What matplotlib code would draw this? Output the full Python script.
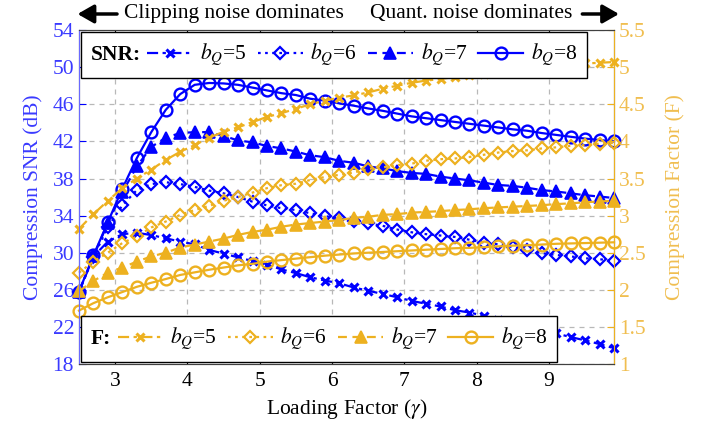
import matplotlib
matplotlib.use("Agg")
import matplotlib.pyplot as plt
from matplotlib.lines import Line2D
from matplotlib.offsetbox import HPacker

plt.rcParams['font.family'] = ['Liberation Serif', 'DejaVu Serif']
plt.rcParams['mathtext.fontset'] = 'stix'
FS = 15.5

# loading factor values
gamma = [2.5, 2.7, 2.9, 3.1, 3.3, 3.5, 3.7, 3.9, 4.1, 4.3,
         4.5, 4.7, 4.9, 5.1, 5.3, 5.5, 5.7, 5.9, 6.1, 6.3,
         6.5, 6.7, 6.9, 7.1, 7.3, 7.5, 7.7, 7.9, 8.1, 8.3,
         8.5, 8.7, 8.9, 9.1, 9.3, 9.5, 9.7, 9.9]

# compression SNR (dB)
snr_b5 = [25.8, 29.6, 31.2, 32.0, 32.15, 31.9, 31.55, 31.2, 30.9, 30.3,
          29.9, 29.5, 29.1, 28.7, 28.2, 27.8, 27.35, 27.0, 26.7, 26.25,
          25.9, 25.55, 25.2, 24.8, 24.5, 24.2, 23.8, 23.55, 23.2, 22.75,
          22.4, 22.1, 21.75, 21.3, 20.9, 20.55, 20.15, 19.7]
snr_b6 = [25.8, 29.5, 32.8, 35.1, 36.75, 37.4, 37.6, 37.4, 37.1, 36.7,
          36.4, 36.0, 35.5, 35.1, 34.8, 34.6, 34.25, 33.95, 33.7, 33.45,
          33.15, 32.9, 32.5, 32.2, 32.0, 31.85, 31.7, 31.4, 31.1, 30.9,
          30.6, 30.25, 29.95, 29.75, 29.6, 29.4, 29.3, 29.1]
snr_b7 = [25.8, 29.6, 33.2, 36.5, 39.3, 41.4, 42.4, 42.9, 43.0, 43.0,
          42.6, 42.1, 41.9, 41.5, 41.25, 40.9, 40.5, 40.3, 39.9, 39.7,
          39.3, 39.1, 38.8, 38.6, 38.5, 38.2, 38.0, 37.8, 37.55, 37.3,
          37.2, 37.0, 36.75, 36.6, 36.4, 36.2, 36.05, 35.9]
snr_b8 = [25.8, 29.7, 33.3, 36.9, 40.2, 43.0, 45.4, 47.1, 48.1, 48.3,
          48.25, 48.1, 47.8, 47.5, 47.2, 47.0, 46.6, 46.4, 46.1, 45.85,
          45.55, 45.3, 45.0, 44.7, 44.5, 44.3, 44.1, 43.9, 43.7, 43.5,
          43.3, 43.15, 42.9, 42.7, 42.5, 42.3, 42.15, 42.0]

# compression factor F
f_b5 = [2.82, 3.02, 3.2, 3.37, 3.5, 3.62, 3.75, 3.86, 3.95, 4.05,
        4.13, 4.19, 4.26, 4.33, 4.38, 4.44, 4.5, 4.55, 4.59, 4.62,
        4.66, 4.71, 4.75, 4.79, 4.82, 4.84, 4.87, 4.89, 4.915, 4.94,
        4.96, 4.98, 5.0, 5.01, 5.03, 5.05, 5.06, 5.07]
f_b6 = [2.23, 2.38, 2.5, 2.63, 2.72, 2.84, 2.92, 3.01, 3.075, 3.13,
        3.2, 3.25, 3.31, 3.37, 3.41, 3.43, 3.48, 3.52, 3.55, 3.58,
        3.63, 3.65, 3.68, 3.7, 3.74, 3.76, 3.77, 3.79, 3.82, 3.85,
        3.87, 3.88, 3.905, 3.92, 3.94, 3.95, 3.97, 3.98]
f_b7 = [1.98, 2.12, 2.23, 2.3, 2.38, 2.45, 2.5, 2.57, 2.61, 2.65,
        2.69, 2.74, 2.78, 2.81, 2.85, 2.88, 2.9, 2.92, 2.94, 2.97,
        2.985, 3.01, 3.02, 3.04, 3.05, 3.06, 3.075, 3.085, 3.1, 3.11,
        3.12, 3.13, 3.14, 3.155, 3.165, 3.18, 3.19, 3.2]
f_b8 = [1.72, 1.82, 1.9, 1.97, 2.04, 2.095, 2.145, 2.2, 2.235, 2.27,
        2.3, 2.33, 2.35, 2.38, 2.4, 2.42, 2.44, 2.46, 2.475, 2.49,
        2.5, 2.51, 2.52, 2.53, 2.54, 2.55, 2.56, 2.565, 2.575, 2.585,
        2.595, 2.6, 2.61, 2.62, 2.625, 2.63, 2.635, 2.64]

labels = ['$b_Q$=5', '$b_Q$=6', '$b_Q$=7', '$b_Q$=8']
snr_ticks = [18, 22, 26, 30, 34, 38, 42, 46, 50, 54]
f_ticks = [1, 1.5, 2, 2.5, 3, 3.5, 4, 4.5, 5, 5.5]
x_ticks = [3, 4, 5, 6, 7, 8, 9]

BLUE = '#0000ff'
ORANGE = '#EDB120'

styles = [
    dict(ls=(0, (5, 2, 1.5, 2)), marker='x', ms=6, mew=2.2),
    dict(ls=(0, (1.2, 2)), marker='D', ms=6.5, mew=1.6, mfc='none'),
    dict(ls=(0, (4, 2.5)), marker='^', ms=8, mew=1.2),
    dict(ls='-', marker='o', ms=8.5, mew=1.7, mfc='none'),
]

fig = plt.figure(figsize=(7.05, 4.24), dpi=100)
ax = fig.add_axes([0.112, 0.1415, 0.759, 0.7875])
ax2 = ax.twinx()

for series, st in zip([snr_b5, snr_b6, snr_b7, snr_b8], styles):
    ax.plot(gamma, series, color=BLUE, lw=1.6, clip_on=False, **st)
for series, st in zip([f_b5, f_b6, f_b7, f_b8], styles):
    ax2.plot(gamma, series, color=ORANGE, lw=1.6, clip_on=False, **st)

ax.set_xlim(2.5, 9.9)
ax.set_ylim(18, 54)
ax2.set_ylim(1, 5.5)
ax.set_xticks(x_ticks)
ax.set_yticks(snr_ticks)
ax2.set_yticks(f_ticks)
ax2.set_yticklabels(['%g' % t for t in f_ticks])

ax.grid(True, ls=(0, (4, 4)), color='#b8b8b8', lw=0.9)
ax.tick_params(axis='x', direction='in', top=True, length=5, labelsize=FS, pad=6)
ax.tick_params(axis='y', direction='in', length=5, color=BLUE, labelcolor='#3a3aff', labelsize=FS)
ax2.tick_params(axis='y', direction='in', length=5, color=ORANGE, labelcolor='#F0BE50', labelsize=FS)
ax2.spines['left'].set_color('#6a6aff')
ax2.spines['right'].set_color(ORANGE)
for s in ['top', 'bottom']:
    ax2.spines[s].set_color('#404040')
    ax.spines[s].set_color('#404040')

ax.set_xlabel(r'Loading Factor ($\gamma$)', fontsize=FS, labelpad=4)
ax.set_ylabel('Compression SNR (dB)', fontsize=FS, color='#3a3aff', labelpad=7)
ax2.set_ylabel('Compression Factor (F)', fontsize=FS, color='#F0BE50', labelpad=14)


def row_legend(axis, color, title, loc, anchor):
    handles = [Line2D([], [], color=color, lw=1.6, **st) for st in styles]
    leg = axis.legend(handles, labels, title=title, ncol=4, loc=loc,
                      bbox_to_anchor=anchor, frameon=True, fancybox=False,
                      edgecolor='black', framealpha=1, fontsize=FS,
                      handlelength=2.1, handletextpad=0.35, columnspacing=0.5,
                      borderpad=0.28, borderaxespad=0.1,
                      title_fontproperties={'weight': 'bold', 'size': FS})
    leg.get_frame().set_linewidth(1.0)
    box = HPacker(pad=0.45 * leg._fontsize, sep=0.3 * leg._fontsize,
                  align='center',
                  children=[leg._legend_title_box, leg._legend_handle_box])
    box.set_figure(axis.figure)
    box.axes = axis
    leg._legend_box = box
    leg._set_loc(leg._loc)
    return leg


leg1 = row_legend(ax2, BLUE, 'SNR:', 'upper left', (0, 1))
ax2.add_artist(leg1)
row_legend(ax2, ORANGE, 'F:', 'lower left', (0, 0))

# region annotations above the axes
fig.text(0.332, 0.967, 'Clipping noise dominates', fontsize=FS, ha='center', va='center')
fig.text(0.669, 0.967, 'Quant. noise dominates', fontsize=FS, ha='center', va='center')
arrow = dict(arrowstyle='-|>,head_length=0.7,head_width=0.4', lw=2.5, color='black',
             mutation_scale=14, shrinkA=0, shrinkB=0)
ax.annotate('', xy=(0.110, 0.967), xytext=(0.166, 0.967),
            xycoords='figure fraction', arrowprops=arrow)
ax.annotate('', xy=(0.878, 0.967), xytext=(0.826, 0.967),
            xycoords='figure fraction', arrowprops=arrow)

fig.savefig('out.png', dpi=100)
